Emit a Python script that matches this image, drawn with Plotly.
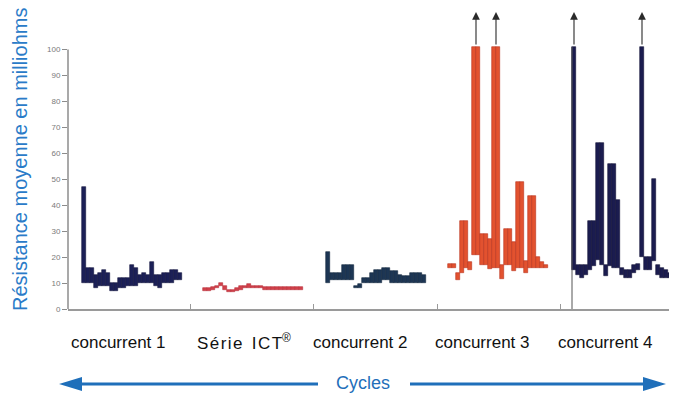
import plotly.graph_objects as go

# ---- data (cycle index, low/high resistance in milliohms) ----
group_names = ["concurrent 1", "S\u200aé\u200ar\u200ai\u200ae\u00a0\u00a0I\u200aC\u200aT<sup>®</sup>", "concurrent 2", "concurrent 3", "concurrent 4"]
group_start = [3.5, 33.75, 64.5, 95, 126]      # first cycle of each group
label_cycle = [12.5, 44, 73, 103.5, 134.25]     # where each group name sits

lows_c1  = [10, 10, 10, 8, 9, 9, 9, 7, 7, 8, 8, 9, 9, 9, 10, 10, 10, 10, 9, 8, 10, 10, 10, 11, 11]
highs_c1 = [47, 16, 16, 13, 14, 15, 14, 10, 10, 12, 12, 12, 17, 16, 13, 14, 13, 18, 13, 13, 14, 14, 15, 15, 14]

lows_ict  = [7, 7, 7.5, 8, 9, 7.5, 6.5, 6.5, 7, 7.5, 8, 8, 8, 8, 8, 7.5, 7.5, 7.5, 7.5, 7.5, 7.5, 7.5, 7.5, 7.5, 7.5]
highs_ict = [8, 8, 8.5, 9, 10, 9, 7.5, 7.5, 8, 9, 9, 9.5, 9, 9, 9, 8.5, 8.5, 8.5, 8.5, 8.5, 8.5, 8.5, 8.5, 8.5, 8.5]

lows_c2  = [10, 11, 11, 11, 11, 11, 11, 8, 8, 10, 10, 10, 10, 10, 11, 11, 10, 10, 10, 10, 10, 10, 10, 10, 10]
highs_c2 = [22, 14, 14, 14, 17, 17, 17, 9, 9.5, 12, 12, 14, 15, 15, 16, 16, 14.5, 14.5, 13, 12.7, 12.7, 14, 14, 14, 13]

lows_c3  = [16, 16, 11, 14, 16, 15, 21, 21, 17, 17, 15.5, 16, 16, 11.5, 17, 17, 14.7, 16, 16, 14, 16, 16, 16, 16, 16]
highs_c3 = [17.5, 17.5, 14, 34, 34, 18, 101, 101, 29, 29, 27, 101, 101, 17, 31, 31, 26, 49, 49, 18.5, 43.6, 43.6, 20, 18, 17]

lows_c4  = [15, 13, 12, 13, 15, 16.5, 19, 17, 12.7, 16.5, 16, 16, 13, 12, 12, 14, 15, 20, 15, 15, 18.5, 13, 12, 12, 12]
highs_c4 = [101, 17, 17, 17, 34, 34, 64, 64, 17, 56, 56, 42, 16, 15, 15, 17, 17.5, 101, 20, 20, 50, 17, 16, 15, 14]

y_ticks = [0, 10, 20, 30, 40, 50, 60, 70, 80, 90, 100]
group_edges = [30.5, 61.25, 92.25, 123]
OFF_SCALE = 100

# page has an 8px body margin: figure is drawn offset by (8, 8)
W, H = 669, 392
L, T, B, R = 60, 0, 91, 5
PX0, PX1 = L + 8, W - R + 8          # plot area in screen pixels (x)
PY0, PY1 = T + 8, H - B + 8          # plot area in screen pixels (y)


def px(x):
    return (x - PX0) / (PX1 - PX0)


def py(y):
    return (PY1 - y) / (PY1 - PY0)


Y_TOP = (PY1 - PY0) / 2.594

groups = [
    (lows_c1, highs_c1, "#1c2057", "#141640"),
    (lows_ict, highs_ict, "#d2414b", "#b8303a"),
    (lows_c2, highs_c2, "#1d3654", "#14283f"),
    (lows_c3, highs_c3, "#e2522f", "#b8321c"),
    (lows_c4, highs_c4, "#1b1c4f", "#121238"),
]

fig = go.Figure()
annotations = []
for g, (lo, hi, col, edge) in enumerate(groups):
    xs = [group_start[g] + i + 0.5 for i in range(len(lo))]
    fig.add_trace(go.Bar(
        x=xs, y=[h - l for l, h in zip(lo, hi)], base=lo, width=1,
        marker=dict(color=col, line=dict(color=edge, width=0.6)),
        showlegend=False, hoverinfo="skip"))
    # arrows above off-scale bars
    run = []
    for x, h in zip(xs + [None], hi + [0]):
        if h >= OFF_SCALE:
            run.append(x)
        elif run:
            xc = sum(run) / len(run)
            annotations.append(dict(x=xc, y=114.5, xref="x", yref="y", ax=0, ay=34,
                                    showarrow=True, arrowhead=2, arrowsize=1.4,
                                    arrowwidth=1.1, arrowcolor="#2a2a2a", text=""))
            run = []

# group names
for name, xc in zip(group_names, label_cycle):
    if "ICT" in name:
        font = dict(family="DejaVu Sans", size=18, color="#111")
    else:
        font = dict(family="Liberation Sans", size=17, color="#111")
    annotations.append(dict(x=xc, y=py(342), xref="x", yref="paper", text=name,
                            showarrow=False, font=font, xanchor="center", yanchor="middle"))

# Cycles label
annotations.append(dict(x=px(363), y=py(383), xref="paper", yref="paper", text="Cycles",
                        showarrow=False, font=dict(family="Liberation Sans", size=18, color="#1f6fba"),
                        xanchor="center", yanchor="middle"))
# y axis title
annotations.append(dict(x=px(20), y=py(160), xref="paper", yref="paper",
                        text="Résistance moyenne en milliohms", textangle=-90, showarrow=False,
                        font=dict(family="Liberation Sans", size=20, color="#2a7bc8"),
                        xanchor="center", yanchor="middle"))

blue = "#1f6fba"
ya = py(384)
hh = 7 / (PY1 - PY0)
shapes = [
    dict(type="line", xref="paper", yref="y", x0=0, x1=0, y0=0, y1=100,
         line=dict(color="#8c8c8c", width=1.5)),
    dict(type="line", xref="x", yref="y", x0=group_start[4], x1=group_start[4], y0=0, y1=101,
         line=dict(color="#555555", width=1)),
    dict(type="line", xref="paper", yref="paper", x0=px(78), x1=px(318), y0=ya, y1=ya,
         line=dict(color=blue, width=3)),
    dict(type="line", xref="paper", yref="paper", x0=px(410), x1=px(648), y0=ya, y1=ya,
         line=dict(color=blue, width=3)),
    dict(type="path", xref="paper", yref="paper",
         path=f"M {px(59)} {ya} L {px(82)} {ya+hh} L {px(82)} {ya-hh} Z",
         fillcolor=blue, line=dict(color=blue, width=0)),
    dict(type="path", xref="paper", yref="paper",
         path=f"M {px(666)} {ya} L {px(643)} {ya+hh} L {px(643)} {ya-hh} Z",
         fillcolor=blue, line=dict(color=blue, width=0)),
]

fig.update_layout(
    width=W, height=H,
    margin=dict(l=L, r=R, t=T, b=B),
    paper_bgcolor="white", plot_bgcolor="white",
    bargap=0, barmode="overlay",
    annotations=annotations, shapes=shapes,
    xaxis=dict(range=[0, 151], showgrid=False, zeroline=False, showline=True, automargin=False,
               linecolor="#9a9a9a", linewidth=1.5, tickvals=group_edges, ticktext=["" for _ in group_edges],
               ticks="inside", ticklen=5, tickcolor="#9a9a9a", fixedrange=True),
    yaxis=dict(range=[0, Y_TOP], showgrid=False, zeroline=False, showline=False, automargin=False,
               tickvals=y_ticks, ticks="outside", ticklen=5, tickcolor="#8c8c8c",
               tickfont=dict(family="Liberation Sans", size=8, color="#7a7a7a"), fixedrange=True),
)

fig.write_html("out.html")
